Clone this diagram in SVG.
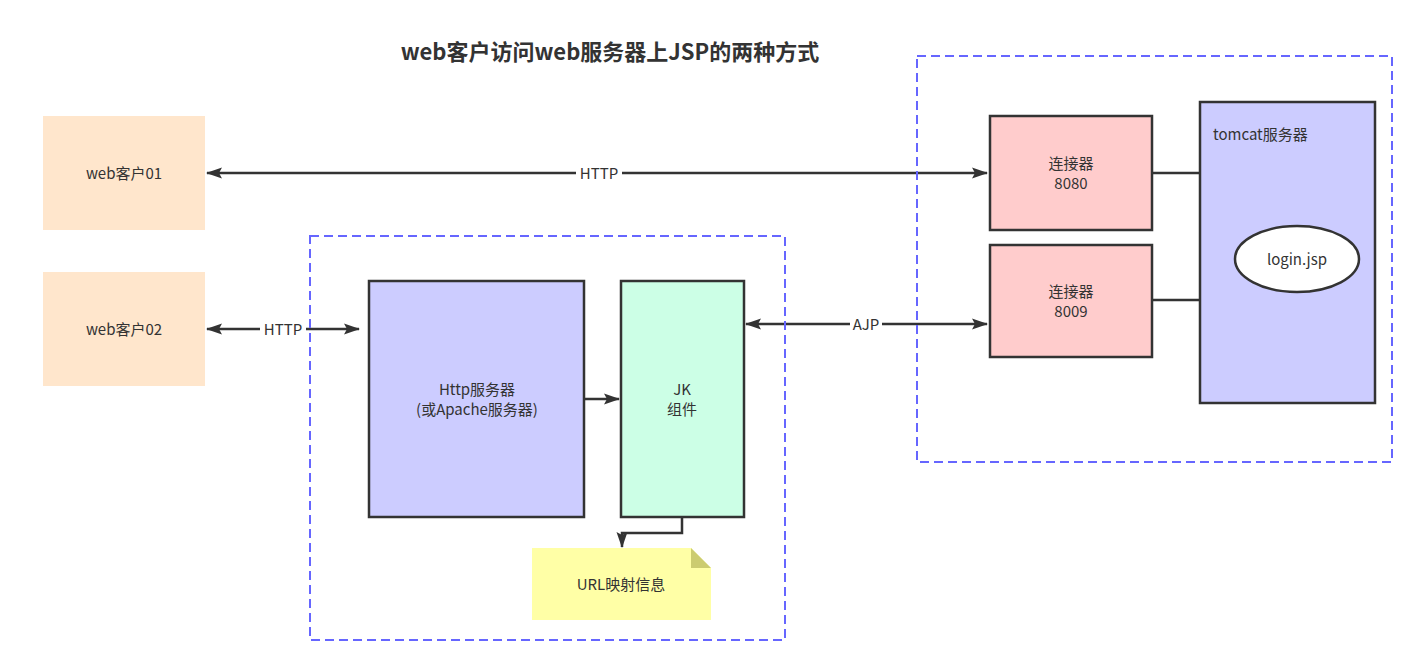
<svg xmlns="http://www.w3.org/2000/svg" width="1424" height="653" viewBox="0 0 1424 653">
<style>
  text { font-family: "Microsoft YaHei", "Noto Sans CJK SC", "Liberation Sans", sans-serif; font-size: 15px; fill: #333333; }
  .c { text-anchor: middle; }
  .title { font-size: 22px; font-weight: bold; }
  .box { stroke: #333333; stroke-width: 2.5; }
  .conn { fill: none; stroke: #333333; stroke-width: 2.5; }
  .group { fill: none; stroke: #6666FF; stroke-width: 2; stroke-dasharray: 9 5; }
  .lbl { fill: #ffffff; }
</style>
<defs>
  <marker id="arr" viewBox="0 0 16 12" refX="15" refY="6" markerWidth="16" markerHeight="12" markerUnits="userSpaceOnUse" orient="auto-start-reverse">
    <path d="M0,0.5 L16,6 L0,11.5 L3,6 Z" fill="#333333"/>
  </marker>
</defs>
<rect width="1424" height="653" fill="#ffffff"/>
<text class="title c" x="610" y="60">web客户访问web服务器上JSP的两种方式</text>

<g id="connectors">
  <line class="conn" x1="207" y1="173" x2="987" y2="173" marker-start="url(#arr)" marker-end="url(#arr)"/>
  <rect class="lbl" x="576" y="164" width="46" height="18"/>
  <text class="c" x="599" y="179">HTTP</text>
  <line class="conn" x1="207" y1="329" x2="359" y2="329" marker-start="url(#arr)" marker-end="url(#arr)"/>
  <rect class="lbl" x="260" y="320" width="46" height="18"/>
  <text class="c" x="283" y="335">HTTP</text>
  <line class="conn" x1="585" y1="399" x2="619" y2="399" marker-end="url(#arr)"/>
  <line class="conn" x1="746" y1="324" x2="987" y2="324" marker-start="url(#arr)" marker-end="url(#arr)"/>
  <rect class="lbl" x="850" y="315" width="32" height="18"/>
  <text class="c" x="866" y="330">AJP</text>
  <polyline class="conn" points="682,518 682,533 622,533 622,547" marker-end="url(#arr)"/>
  <line class="conn" x1="1153" y1="173" x2="1200" y2="173"/>
  <line class="conn" x1="1153" y1="300" x2="1200" y2="300"/>
</g>

<g id="group-apache">
  <rect class="group" x="310" y="236" width="475" height="404"/>
</g>
<g id="group-tomcat">
  <rect class="group" x="917" y="56" width="475" height="406"/>
</g>

<g id="client01">
  <rect x="43" y="116" width="162" height="114" fill="#FFE6CC"/>
  <text class="c" x="124" y="179">web客户01</text>
</g>
<g id="client02">
  <rect x="43" y="272" width="162" height="114" fill="#FFE6CC"/>
  <text class="c" x="124" y="335">web客户02</text>
</g>
<g id="http-server">
  <rect class="box" x="369" y="281" width="215" height="236" fill="#CCCCFF"/>
  <text class="c" x="477" y="395">Http服务器</text>
  <text class="c" x="477" y="415">(或Apache服务器)</text>
</g>
<g id="jk">
  <rect class="box" x="621" y="281" width="123" height="236" fill="#CCFFE6"/>
  <text class="c" x="682" y="395">JK</text>
  <text class="c" x="682" y="415">组件</text>
</g>
<g id="url-note">
  <path d="M532,548 H691 L711,568 V620 H532 Z" fill="#FFFFA6"/>
  <path d="M691,548 L711,568 H691 Z" fill="#CCCC70"/>
  <text class="c" x="621" y="590">URL映射信息</text>
</g>
<g id="conn8080">
  <rect class="box" x="990" y="116" width="162" height="114" fill="#FFCCCC"/>
  <text class="c" x="1071" y="169">连接器</text>
  <text class="c" x="1071" y="189">8080</text>
</g>
<g id="conn8009">
  <rect class="box" x="990" y="245" width="162" height="112" fill="#FFCCCC"/>
  <text class="c" x="1071" y="297">连接器</text>
  <text class="c" x="1071" y="317">8009</text>
</g>
<g id="tomcat">
  <rect class="box" x="1200" y="102" width="175" height="301" fill="#CCCCFF"/>
  <text x="1213" y="140">tomcat服务器</text>
</g>
<g id="login-jsp">
  <ellipse class="box" cx="1297" cy="259" rx="62" ry="33" fill="#ffffff"/>
  <text class="c" x="1297" y="265">login.jsp</text>
</g>
</svg>
